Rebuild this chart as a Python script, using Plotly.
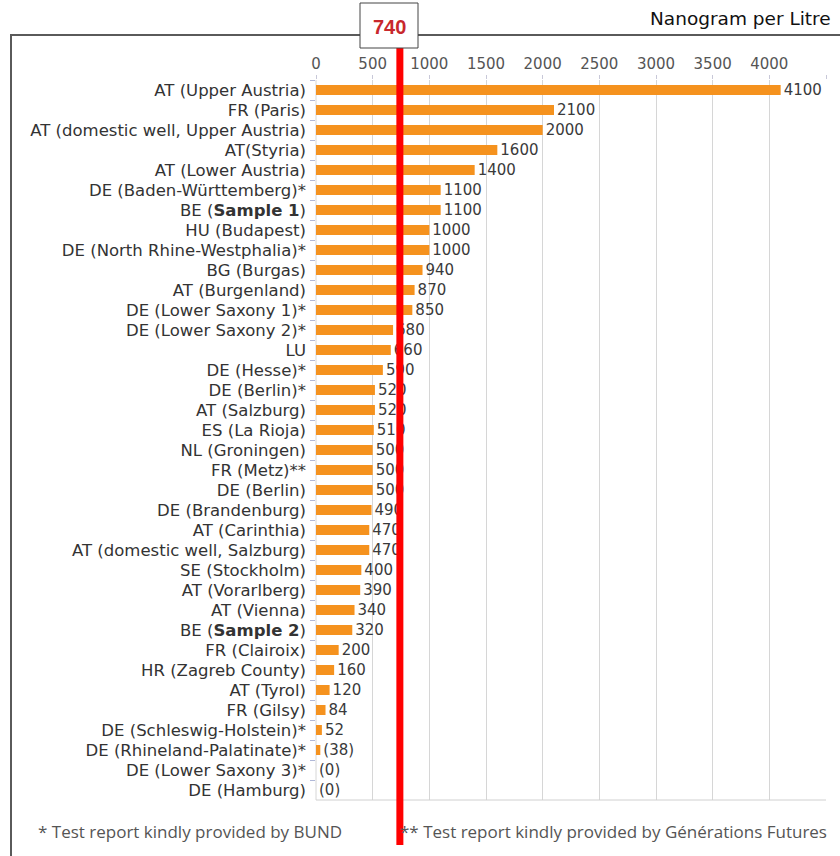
import plotly.graph_objects as go

categories = [
    "AT (Upper Austria)", "FR (Paris)", "AT (domestic well, Upper Austria)", "AT(Styria)",
    "AT (Lower Austria)", "DE (Baden-Württemberg)*", "BE (<b>Sample 1</b>)", "HU (Budapest)",
    "DE (North Rhine-Westphalia)*", "BG (Burgas)", "AT (Burgenland)", "DE (Lower Saxony 1)*",
    "DE (Lower Saxony 2)*", "LU", "DE (Hesse)*", "DE (Berlin)*", "AT (Salzburg)",
    "ES (La Rioja)", "NL (Groningen)", "FR (Metz)**", "DE (Berlin)", "DE (Brandenburg)",
    "AT (Carinthia)", "AT (domestic well, Salzburg)", "SE (Stockholm)", "AT (Vorarlberg)",
    "AT (Vienna)", "BE (<b>Sample 2</b>)", "FR (Clairoix)", "HR (Zagreb County)", "AT (Tyrol)",
    "FR (Gilsy)", "DE (Schleswig-Holstein)*", "DE (Rhineland-Palatinate)*",
    "DE (Lower Saxony 3)*", "DE (Hamburg)",
]
values = [4100, 2100, 2000, 1600, 1400, 1100, 1100, 1000, 1000, 940, 870, 850, 680, 660,
          590, 520, 520, 510, 500, 500, 500, 490, 470, 470, 400, 390, 340, 320, 200, 160,
          120, 84, 52, 38, 0, 0]
value_labels = ["4100", "2100", "2000", "1600", "1400", "1100", "1100", "1000", "1000", "940",
                "870", "850", "680", "660", "590", "520", "520", "510", "500", "500", "500",
                "490", "470", "470", "400", "390", "340", "320", "200", "160", "120", "84",
                "52", "(38)", "(0)", "(0)"]
x_ticks = [0, 500, 1000, 1500, 2000, 2500, 3000, 3500, 4000, 4500]
threshold = 740
unit_title = "Nanogram per Litre"
note1 = "* Test report kindly provided by BUND"
note2 = "** Test report kindly provided by Générations Futures"

W, H = 840, 856
L, R, T, B = 316, 826, 80, 800
def px(x):
    return (x - L) / (R - L)
def py(y):
    return (B - y) / (B - T)

fig = go.Figure()
fig.add_trace(go.Bar(
    x=values, y=categories, orientation="h",
    marker=dict(color="#F5921E", line=dict(width=0)),
    width=0.5,
    text=value_labels, textposition="outside", cliponaxis=False,
    constraintext="none",
    textfont=dict(family="DejaVu Sans", size=15, color="#3a3a3a"),
    hoverinfo="skip",
))

fig.update_layout(
    width=W, height=H,
    margin=dict(l=L, r=W - R, t=T, b=H - B, autoexpand=False),
    paper_bgcolor="white", plot_bgcolor="white",
    showlegend=False,
    xaxis=dict(
        side="top", range=[0, 4500], tickvals=x_ticks, automargin=False,
        tickfont=dict(family="DejaVu Sans", size=15, color="#555"),
        showgrid=True, gridcolor="#d6d6d6", gridwidth=1,
        zeroline=False, ticks="outside", ticklen=4, tickcolor="#c8c8d8",
        fixedrange=True,
    ),
    yaxis=dict(
        autorange="reversed", automargin=False,
        tickfont=dict(family="DejaVu Sans", size=16.5, color="#333"),
        ticks="outside", ticklen=5, tickcolor="#b0b8d8", tickson="boundaries",
        ticklabelstandoff=9,
        showgrid=False, zeroline=False, fixedrange=True,
    ),
    font=dict(family="DejaVu Sans"),
)

shapes = [
    # outer frame
    dict(type="rect", xref="paper", yref="paper", x0=px(11), x1=px(880), y0=py(35), y1=py(900),
         line=dict(color="#5a5a5a", width=2), fillcolor="rgba(0,0,0,0)", layer="below"),
    # plot bottom line
    dict(type="line", xref="paper", yref="paper", x0=0, x1=1, y0=0, y1=0,
         line=dict(color="#d0d0d0", width=1)),
    # left line at zero
    dict(type="line", xref="paper", yref="paper", x0=0, x1=0, y0=0, y1=1,
         line=dict(color="#d6d6d6", width=1), layer="below"),
    # threshold red line
    dict(type="line", xref="x", yref="paper", x0=threshold, x1=threshold, y0=py(47), y1=py(845),
         line=dict(color="#ff0000", width=7)),
    # threshold label box
    dict(type="rect", xref="paper", yref="paper", x0=px(360), x1=px(418), y0=py(3), y1=py(48),
         line=dict(color="#444", width=1), fillcolor="white"),
]
fig.update_layout(shapes=shapes)

annotations = [
    dict(text="<b>%d</b>" % threshold, xref="paper", yref="paper", x=px(389), y=py(27),
         showarrow=False, font=dict(family="Liberation Sans", size=20, color="#c8282c"),
         xanchor="center", yanchor="middle"),
    dict(text=unit_title, xref="paper", yref="paper", x=px(648), y=py(18),
         showarrow=False, font=dict(family="DejaVu Sans", size=18.5, color="#111"),
         xanchor="left", yanchor="middle"),
    dict(text=note1, xref="paper", yref="paper", x=px(36), y=py(831),
         showarrow=False, font=dict(family="Open Sans", size=17, color="#555"),
         xanchor="left", yanchor="middle"),
    dict(text=note2, xref="paper", yref="paper", x=px(398), y=py(831),
         showarrow=False, font=dict(family="Open Sans", size=17, color="#555"),
         xanchor="left", yanchor="middle"),
]
fig.update_layout(annotations=annotations)

fig.write_html("out.html", config={"displayModeBar": False},
               post_script="document.body.style.margin='0';")
